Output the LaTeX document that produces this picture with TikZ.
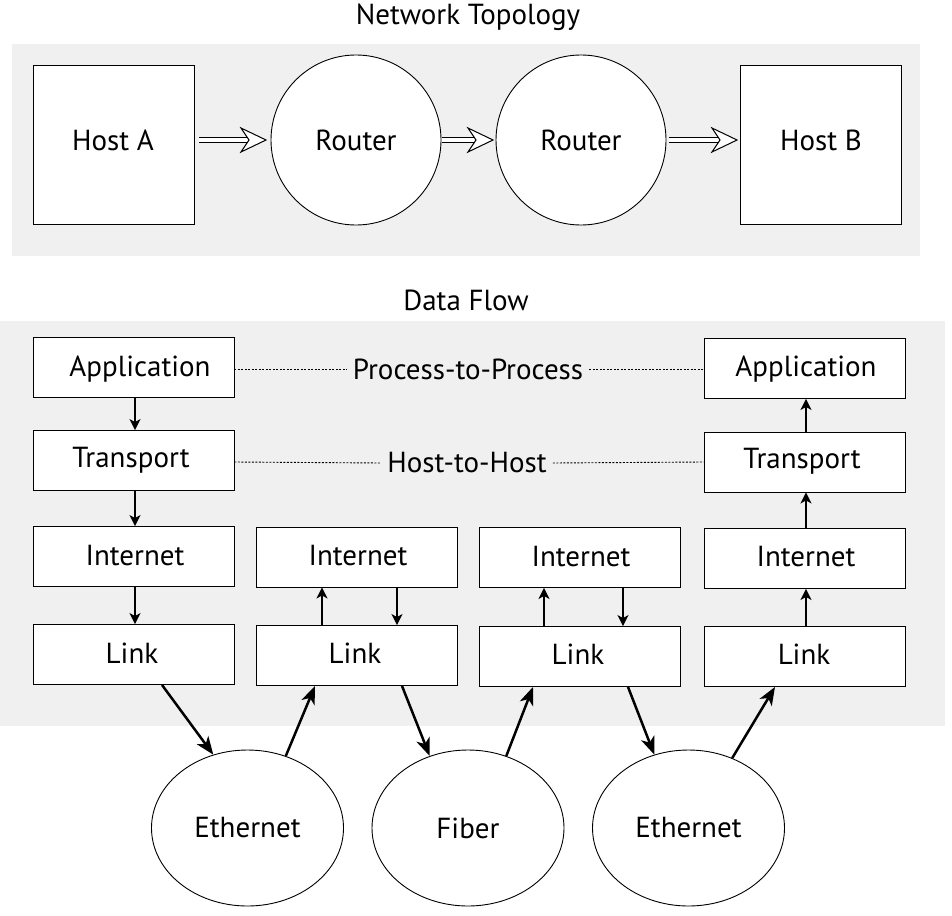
\documentclass[tikz,border=0pt]{standalone}
\usepackage{fontspec}
\setmainfont{PT Sans}
\usetikzlibrary{arrows.meta,shapes.geometric}
\definecolor{panel}{HTML}{F0F0F0}
\tikzset{
  txt/.style={font=\fontsize{29}{32}\selectfont},
  box/.style={draw=black, line width=0.9pt, fill=white, minimum width=201pt, minimum height=60pt, inner sep=0pt},
  hostbox/.style={draw=black, line width=0.9pt, fill=white, minimum width=161pt, minimum height=159pt, inner sep=0pt},
  router/.style={txt, draw=black, line width=0.9pt, fill=white, circle, minimum size=170pt, inner sep=0pt},
  medium/.style={txt, draw=black, line width=0.9pt, fill=white, ellipse, minimum width=192pt, minimum height=156pt, inner sep=0pt},
  lbl/.style={txt, fill=panel, inner sep=6pt},
  shaft/.style={double, double distance=4.5pt, line width=1pt},
  openhead/.style={line width=1pt, fill=white, line join=miter},
  smallarrow/.style={line width=1.8pt, -{Stealth[length=11pt,width=11pt,inset=3pt]}},
  bigarrow/.style={line width=2.5pt, -{Stealth[length=18pt,width=14pt,inset=5pt]}},
  dotline/.style={line width=0.9pt, dash pattern=on 2pt off 1.5pt},
}
\begin{document}
\begin{tikzpicture}[x=1pt,y=-1pt]
\useasboundingbox (0,0) rectangle (952,915);
% panels
\fill[panel] (12,44) rectangle (920,256);
\fill[panel] (0,321) rectangle (945,726);
\node[txt] (t1) at (468,17) {Network Topology};
\node[txt] (t2) at (466,300) {Data Flow};
% topology
\node[hostbox] (ha) at (113.5,144.5) {};
\node[txt] (hat) at (113,140) {Host A};
\node[router] (r1) at (356,140) {Router};
\node[router] (r2) at (581,140) {Router};
\node[hostbox] (hb) at (820.5,144.5) {};
\node[txt] (hbt) at (821,140) {Host B};
\coordinate (a1s) at (199,140); \coordinate (a1m) at (252,140); \coordinate (a1e) at (266,140);
\coordinate (a2s) at (442,140); \coordinate (a2m) at (479,140); \coordinate (a2e) at (493,140);
\coordinate (a3s) at (669,140); \coordinate (a3m) at (723,140); \coordinate (a3e) at (737,140);
\draw[shaft] (a1s) -- (a1m);
\draw[openhead] (a1e) -- ++(-25,-12) -- ++(8,12) -- ++(-8,12) -- cycle;
\draw[shaft] (a2s) -- (a2m);
\draw[openhead] (a2e) -- ++(-25,-12) -- ++(8,12) -- ++(-8,12) -- cycle;
\draw[shaft] (a3s) -- (a3m);
\draw[openhead] (a3e) -- ++(-25,-12) -- ++(8,12) -- ++(-8,12) -- cycle;
% data flow column 1
\node[box] (app1) at (133.5,367.5) {};
\node[box] (tr1) at (133.5,460.5) {};
\node[box] (in1) at (133.5,556.5) {};
\node[box] (ln1) at (133.5,654.5) {};
\node[txt] (app1t) at (140,369) {Application};
\node[txt] (tr1t) at (131,460) {Transport};
\node[txt] (in1t) at (135,556) {Internet};
\node[txt] (ln1t) at (132,653) {Link};
% column 2
\node[box] (in2) at (356.5,557) {};
\node[box] (ln2) at (356.5,655.5) {};
\node[txt] (in2t) at (358,556) {Internet};
\node[txt] (ln2t) at (355,653) {Link};
% column 3
\node[box] (in3) at (579.5,557.5) {};
\node[box] (ln3) at (579.5,656.5) {};
\node[txt] (in3t) at (581,557) {Internet};
\node[txt] (ln3t) at (578,654) {Link};
% column 4
\node[box] (app4) at (804.5,368.5) {};
\node[box] (tr4) at (804.5,462) {};
\node[box] (in4) at (804.5,558.5) {};
\node[box] (ln4) at (804.5,656.5) {};
\node[txt] (app4t) at (806,369) {Application};
\node[txt] (tr4t) at (802,461) {Transport};
\node[txt] (in4t) at (806,557) {Internet};
\node[txt] (ln4t) at (804,654) {Link};
% dotted peer lines
\node[lbl] (p2p) at (468,369) {Process-to-Process};
\node[lbl] (h2h) at (467,463) {Host-to-Host};
\draw[dotline] (app1.east |- 0,369) -- (p2p.west);
\draw[dotline] (p2p.east) -- (app4.west |- 0,369);
\draw[dotline] (tr1.east |- 0,462) -- (h2h.west);
\draw[dotline] (h2h.east) -- (tr4.west |- 0,462);
% small vertical arrows
\draw[smallarrow] (app1.south -| 135,0) -- (tr1.north -| 135,0);
\draw[smallarrow] (tr1.south -| 135,0) -- (in1.north -| 135,0);
\draw[smallarrow] (in1.south -| 135,0) -- (ln1.north -| 135,0);
\draw[smallarrow] (ln2.north -| 322,0) -- (in2.south -| 322,0);
\draw[smallarrow] (in2.south -| 397,0) -- (ln2.north -| 397,0);
\draw[smallarrow] (ln3.north -| 544,0) -- (in3.south -| 544,0);
\draw[smallarrow] (in3.south -| 623,0) -- (ln3.north -| 623,0);
\draw[smallarrow] (ln4.north -| 806,0) -- (in4.south -| 806,0);
\draw[smallarrow] (in4.north -| 806,0) -- (tr4.south -| 806,0);
\draw[smallarrow] (tr4.north -| 806,0) -- (app4.south -| 806,0);
% media
\node[medium] (e1) at (247.5,828) {Ethernet};
\node[medium] (fb) at (468,828) {Fiber};
\node[medium] (e2) at (688.5,828) {Ethernet};
% big arrows
\draw[bigarrow] (ln1.south -| 162,0) -- (e1.115);
\draw[bigarrow] (e1.62) -- (ln2.south -| 315,0);
\draw[bigarrow] (ln2.south -| 402,0) -- (fb.118);
\draw[bigarrow] (fb.62) -- (ln3.south -| 533,0);
\draw[bigarrow] (ln3.south -| 628,0) -- (e2.115);
\draw[bigarrow] (e2.58) -- (ln4.south -| 775,0);
\end{tikzpicture}
\end{document}
